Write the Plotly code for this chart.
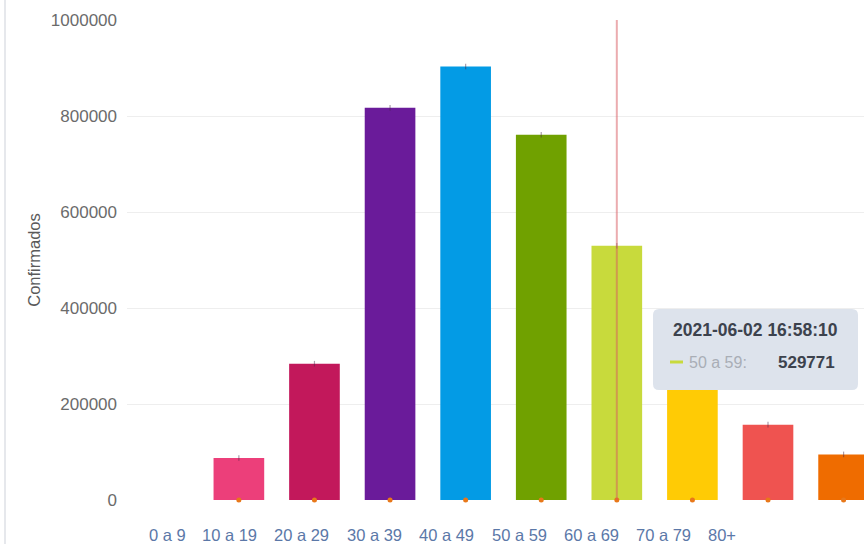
import plotly.graph_objects as go

categories = ["0 a 9", "10 a 19", "20 a 29", "30 a 39", "40 a 49",
              "50 a 59", "60 a 69", "70 a 79", "80+"]
confirmados = [87500, 284000, 817000, 903000, 761000, 529771, 330000, 157000, 95000]
colors = ["#ec3f7a", "#c2185b", "#6a1b9a", "#039be5", "#70a100",
          "#c8da3c", "#ffcb05", "#ef5350", "#ef6c00"]
y_ticks = [0, 200000, 400000, 600000, 800000, 1000000]
hover_time = "2021-06-02 16:58:10"
hover_cat = "50 a 59"
# legend label left edges (pixels) – layout only
legend_px = [147, 200, 272, 345, 417, 490, 562, 634, 706]

W, H = 864, 544
L, R, T, B = 127, 0, 20, 44
pw, ph = W - L - R, H - T - B
FONT = "Liberation Sans, Arial"

def px_x(p):
    return (p - L) / pw

def px_y(p):
    return (H - B - p) / ph

xs = list(range(len(categories)))
fig = go.Figure()
fig.add_trace(go.Bar(x=xs, y=confirmados, marker=dict(color=colors, line=dict(width=0)),
                     width=0.67, showlegend=False, hoverinfo="skip"))
# small dark tick on bar top
fig.add_trace(go.Scatter(x=xs, y=confirmados, mode="markers",
                         marker=dict(symbol="line-ns", size=4, line=dict(width=1.2, color="rgba(70,40,70,0.45)")),
                         showlegend=False, hoverinfo="skip", cliponaxis=False))
# orange dots at baseline
fig.add_trace(go.Scatter(x=xs, y=[0] * len(xs), mode="markers",
                         marker=dict(size=5, color="#e8781a"),
                         showlegend=False, hoverinfo="skip", cliponaxis=False))

hi = categories.index(hover_cat)
shapes = [
    dict(type="line", xref="x", yref="paper", x0=hi, x1=hi, y0=0, y1=1,
         line=dict(color="rgba(215,90,95,0.5)", width=2)),
    dict(type="line", xref="paper", yref="paper", x0=px_x(5), x1=px_x(5), y0=px_y(544), y1=px_y(0),
         line=dict(color="#e6e8ec", width=2)),
]
# tooltip box with rounded corners
x0, x1 = px_x(653), px_x(858)
y0, y1 = px_y(390), px_y(309)
rx, ry = 6 / pw, 6 / ph
path = (f"M {x0+rx},{y0} L {x1-rx},{y0} Q {x1},{y0} {x1},{y0+ry} "
        f"L {x1},{y1-ry} Q {x1},{y1} {x1-rx},{y1} L {x0+rx},{y1} "
        f"Q {x0},{y1} {x0},{y1-ry} L {x0},{y0+ry} Q {x0},{y0} {x0+rx},{y0} Z")
shapes.append(dict(type="path", xref="paper", yref="paper", path=path,
                   fillcolor="#dde3ec", line=dict(width=0)))
shapes.append(dict(type="line", xref="paper", yref="paper", x0=px_x(670), x1=px_x(683),
                   y0=px_y(362), y1=px_y(362), line=dict(color=colors[hi], width=3)))

annotations = []
for cat, p in zip(categories, legend_px):
    annotations.append(dict(text=cat, xref="paper", yref="paper", x=px_x(p), y=px_y(535),
                            xanchor="left", yanchor="middle", showarrow=False,
                            font=dict(size=16.5, color="#5b78a8", family=FONT)))
annotations.append(dict(text=f"<b>{hover_time}</b>", xref="paper", yref="paper",
                        x=px_x(755), y=px_y(330), xanchor="center", yanchor="middle",
                        showarrow=False, font=dict(size=17.5, color="#3c424d", family=FONT)))
annotations.append(dict(text=f"{hover_cat}:", xref="paper", yref="paper",
                        x=px_x(687), y=px_y(362), xanchor="left", yanchor="middle",
                        showarrow=False, font=dict(size=16, color="#a9aeb6", family=FONT)))
annotations.append(dict(text=f"<b>{confirmados[hi]}</b>", xref="paper", yref="paper",
                        x=px_x(837), y=px_y(362), xanchor="right", yanchor="middle",
                        showarrow=False, font=dict(size=17, color="#3c424d", family=FONT)))

fig.update_layout(
    width=W, height=H, margin=dict(l=L, r=R, t=T, b=B),
    paper_bgcolor="white", plot_bgcolor="white",
    shapes=shapes, annotations=annotations,
    font=dict(family=FONT, color="#666"),
    xaxis=dict(range=[-1.48, 8.27], showticklabels=False, showgrid=False, zeroline=False,
               showline=False, fixedrange=True),
    yaxis=dict(range=[0, 1000000], tickvals=y_ticks, ticktext=[str(v) for v in y_ticks],
               showgrid=True, gridcolor="#eeeeee", gridwidth=1, zeroline=False, showline=False,
               tickfont=dict(size=17, color="#6b6b6b"), ticks="", ticklabelstandoff=9,
               title=dict(text="Confirmados", font=dict(size=16.5, color="#5a5a5a"), standoff=6)),
    showlegend=False,
)
fig.write_html("out.html", config={"displayModeBar": False},
               post_script="document.body.style.margin='0';document.body.style.overflow='hidden';")
